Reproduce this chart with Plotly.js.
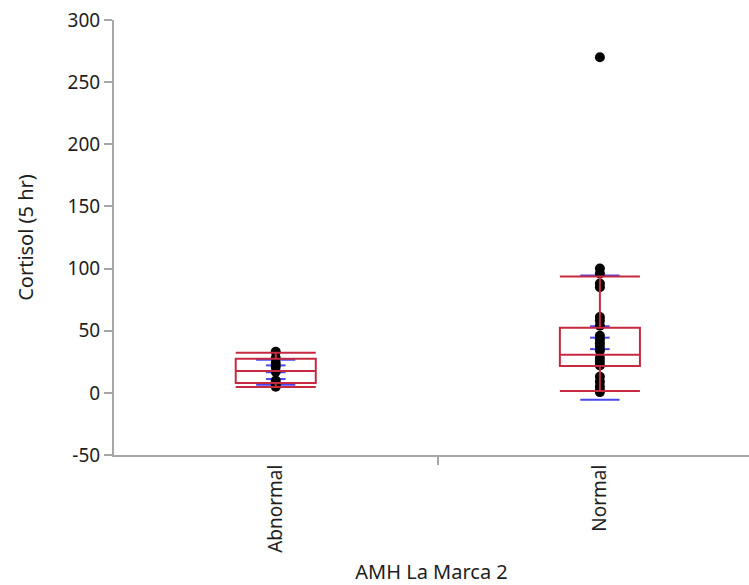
<!DOCTYPE html>
<html>
<head>
<meta charset="utf-8">
<script src="https://cdn.plot.ly/plotly-3.0.1.min.js"></script>
<style>html,body{margin:0;padding:0;background:#fff;}#chart{width:749px;height:585px;}</style>
</head>
<body>
<div id="chart"></div>
<script>
// Categories
const categories = ["Abnormal", "Normal"];

// Y tick values and labels
const yTickValues = [-50, 0, 50, 100, 150, 200, 250, 300];
const yTickLabels = ["-50", "0", "50", "100", "150", "200", "250", "300"];

// Raw points
const abnormalValues = [33, 28, 24, 21, 17, 10, 7, 5];
const normalValues = [270, 100, 96, 88, 85, 61, 58, 54, 46, 43, 40, 37, 34, 28, 25, 22, 13, 9, 5, 2, 0.6];

// Quantile box statistics
const lowerWhisker = [4.7, 1.5];
const q1Values = [8, 21.6];
const medianValues = [17.5, 30.7];
const q3Values = [27.5, 52.4];
const upperWhisker = [32.3, 93.7];

// Mean, standard deviation, standard error
const meanValues = [16.6, 44.4];
const sdValues = [10.1, 50];
const seValues = [5.5, 9.2];

const red = "rgb(198,42,64)";
const blue = "rgb(72,72,240)";
const gray = "#a6a6a6";
const font = "Noto Sans, Open Sans, sans-serif";

const traces = [];

// Std dev lines (mean ± SD)
const sdX = [], sdY = [];
categories.forEach((c, i) => { sdX.push(c, c); sdY.push(meanValues[i] + sdValues[i], meanValues[i] - sdValues[i]); });
traces.push({
  type: "scatter", mode: "markers", x: sdX, y: sdY, hoverinfo: "skip", showlegend: false,
  marker: {symbol: "line-ew", size: 28, color: blue, line: {color: blue, width: 2}}
});

// Mean and standard error lines
const seX = [], seY = [];
categories.forEach((c, i) => { seX.push(c, c, c); seY.push(meanValues[i] + seValues[i], meanValues[i], meanValues[i] - seValues[i]); });
traces.push({
  type: "scatter", mode: "markers", x: seX, y: seY, hoverinfo: "skip", showlegend: false,
  marker: {symbol: "line-ew", size: 14, color: blue, line: {color: blue, width: 2}}
});

// Points
traces.push({
  type: "scatter", mode: "markers",
  x: abnormalValues.map(() => categories[0]).concat(normalValues.map(() => categories[1])),
  y: abnormalValues.concat(normalValues),
  showlegend: false,
  marker: {color: "#000", size: 10}
});

// Quantile boxes (on overlay axes so they draw on top of the points)
traces.push({
  type: "box", x: categories, q1: q1Values, median: medianValues, q3: q3Values,
  lowerfence: lowerWhisker, upperfence: upperWhisker,
  boxpoints: false, width: 0.247, whiskerwidth: 1,
  fillcolor: "rgba(0,0,0,0)", line: {color: red, width: 2},
  xaxis: "x2", yaxis: "y2", showlegend: false
});

const xr = [-0.499, 1.46];
const yr = [-50, 300];

const layout = {
  width: 749, height: 585,
  margin: {l: 114, r: 0, t: 20, b: 130},
  paper_bgcolor: "#fff", plot_bgcolor: "#fff",
  font: {family: font, size: 19, color: "#1e1e1e"},
  showlegend: false,
  xaxis: {
    type: "category", categoryorder: "array", categoryarray: categories,
    range: xr, autorange: false,
    showline: true, linecolor: gray, linewidth: 2,
    ticks: "outside", tickson: "boundaries", ticklen: 8, tickwidth: 2, tickcolor: gray,
    tickangle: -90, tickfont: {family: font, size: 19, color: "#1e1e1e"},
    showgrid: false, zeroline: false, automargin: false,
    title: {text: "AMH La Marca 2", font: {family: font, size: 20, color: "#1e1e1e"}, standoff: 16}
  },
  yaxis: {
    range: yr, autorange: false, tickmode: "array", tickvals: yTickValues, ticktext: yTickLabels,
    showline: true, linecolor: gray, linewidth: 2,
    ticks: "outside", ticklen: 8, tickwidth: 2, tickcolor: gray,
    tickfont: {family: font, size: 19, color: "#1e1e1e"},
    showgrid: false, zeroline: false, automargin: false,
    title: {text: "Cortisol (5 hr)", font: {family: font, size: 20, color: "#1e1e1e"}, standoff: 29}
  },
  xaxis2: {
    type: "category", categoryorder: "array", categoryarray: categories,
    overlaying: "x", range: xr, autorange: false, visible: false
  },
  yaxis2: {
    overlaying: "y", range: yr, autorange: false, visible: false
  }
};

Plotly.newPlot("chart", traces, layout, {displayModeBar: false, staticPlot: true});
</script>
</body>
</html>
